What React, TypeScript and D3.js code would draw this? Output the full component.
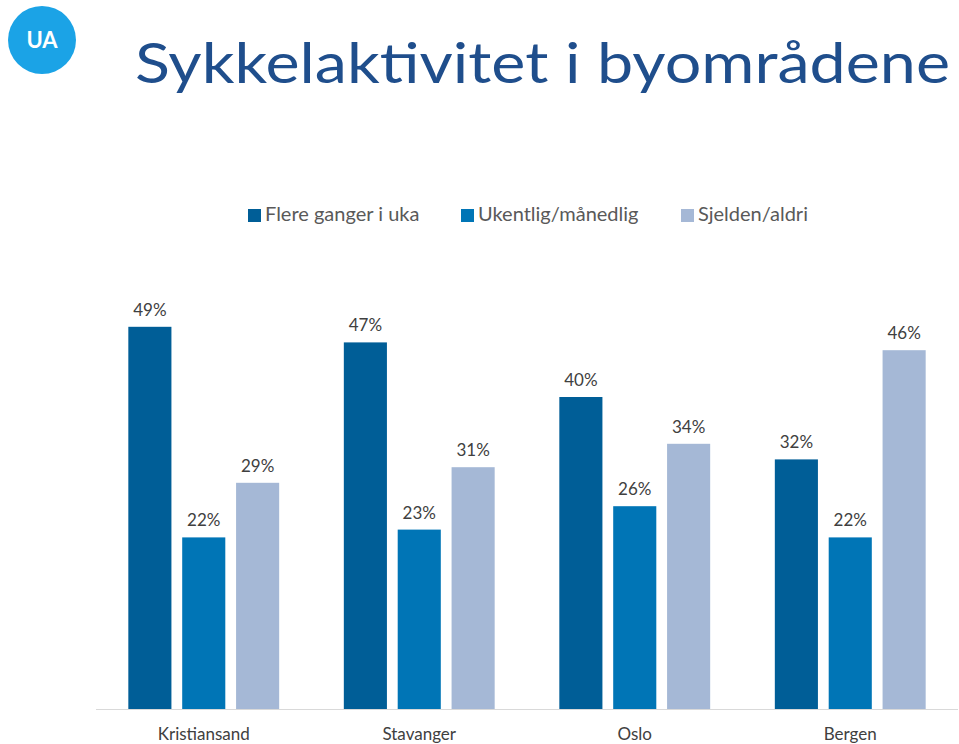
import React from "react";
import * as d3 from "d3";

const categories = ["Kristiansand", "Stavanger", "Oslo", "Bergen"];
const seriesNames = ["Flere ganger i uka", "Ukentlig/månedlig", "Sjelden/aldri"];
const flere = [49, 47, 40, 32];
const ukentlig = [22, 23, 26, 22];
const sjelden = [29, 31, 34, 46];
const seriesColors = ["#005E97", "#0075B6", "#A5B8D6"];

const W = 959;
const H = 744;
const FONT = "Lato, 'Open Sans', sans-serif";

export default function App() {
  const seriesValues = [flere, ukentlig, sjelden];
  const x0 = d3.scaleBand<string>().domain(categories).range([96, 958]).paddingInner(0.3).paddingOuter(0.15);
  const x1 = d3.scaleBand<string>().domain(seriesNames).range([0, x0.bandwidth()]).paddingInner(0.2).paddingOuter(0);
  const y = d3.scaleLinear().domain([0, 50]).range([709, 319]);

  const legendX = [248, 461, 681];

  return (
    <svg width={W} height={H} style={{ position: "absolute", left: 0, top: 0, background: "#fff" }} fontFamily={FONT}>
      <rect x={0} y={0} width={W} height={H} fill="#fff" />
      <circle cx={42} cy={40} r={34} fill="#1BA3E6" />
      <text x={42} y={48} textAnchor="middle" fill="#fff" fontSize={22} fontWeight={700}>UA</text>
      <text x={135} y={83} fill="#1F4E8C" fontSize={56} textLength={815} lengthAdjust="spacingAndGlyphs">Sykkelaktivitet i byområdene</text>

      {seriesNames.map((s, i) => (
        <g key={s}>
          <rect x={legendX[i]} y={209} width={13} height={13} fill={seriesColors[i]} />
          <text x={legendX[i] + 17} y={221} fontSize={20} fill="#595959">{s}</text>
        </g>
      ))}

      {categories.map((c, ci) => (
        <g key={c} transform={`translate(${x0(c)},0)`}>
          {seriesNames.map((s, si) => {
            const v = seriesValues[si][ci];
            const bx = x1(s)!;
            return (
              <g key={s}>
                <rect x={bx} y={y(v)} width={x1.bandwidth()} height={y(0) - y(v)} fill={seriesColors[si]} />
                <text x={bx + x1.bandwidth() / 2} y={y(v) - 11} textAnchor="middle" fontSize={17} fill="#404040">{v}%</text>
              </g>
            );
          })}
          <text x={x0.bandwidth() / 2} y={740} textAnchor="middle" fontSize={17} fill="#404040">{c}</text>
        </g>
      ))}
      <line x1={96} x2={958} y1={709.5} y2={709.5} stroke="#D9D9D9" strokeWidth={1} />
    </svg>
  );
}
